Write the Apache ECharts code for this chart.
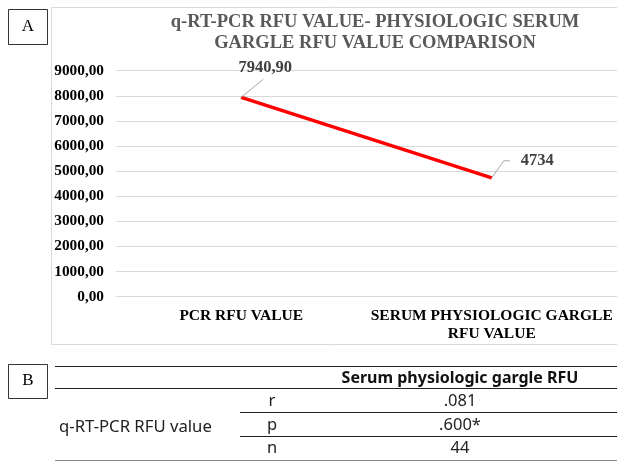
<!DOCTYPE html>
<html>
<head>
<meta charset="utf-8">
<script src="https://cdn.jsdelivr.net/npm/echarts@6/dist/echarts.min.js"></script>
<style>
html,body{margin:0;padding:0;background:#fff;}
#main{width:617px;height:461px;}
</style>
</head>
<body>
<div id="main"></div>
<script>
var categories = ['PCR RFU VALUE', 'SERUM PHYSIOLOGIC GARGLE\nRFU VALUE'];
var values = [7940.90, 4734];
var valueLabels = ['7940,90', '4734'];
var yMin = 0, yMax = 9000, yStep = 1000;
var titleLines = ['q-RT-PCR RFU VALUE- PHYSIOLOGIC SERUM', 'GARGLE RFU VALUE COMPARISON'];
var tableHeader = 'Serum physiologic gargle RFU';
var tableRowGroup = 'q-RT-PCR RFU value';
var tableStats = ['r', 'p', 'n'];
var tableValues = ['.081', '.600*', '44'];

var serif = '"Liberation Serif", "Times New Roman", serif';
var sans = '"Noto Sans", sans-serif';

var chart = echarts.init(document.getElementById('main'), null, {renderer: 'canvas'});

var graphics = [];
// panel boxes A and B
graphics.push({type: 'rect', shape: {x: 8.5, y: 9.5, width: 39, height: 35}, style: {fill: '#fff', stroke: '#333', lineWidth: 1}});
graphics.push({type: 'text', x: 28, y: 27, style: {text: 'A', font: '17px ' + serif, fill: '#000', align: 'center', verticalAlign: 'middle'}});
graphics.push({type: 'rect', shape: {x: 8.5, y: 364.5, width: 39, height: 34}, style: {fill: '#fff', stroke: '#333', lineWidth: 1}});
graphics.push({type: 'text', x: 28, y: 381, style: {text: 'B', font: '17px ' + serif, fill: '#000', align: 'center', verticalAlign: 'middle'}});
// chart area border
graphics.push({type: 'rect', z: -10, shape: {x: 51.5, y: 7.5, width: 700, height: 337}, style: {fill: 'none', stroke: '#d9d9d9', lineWidth: 1}});
// title
graphics.push({type: 'text', x: 375, y: 32.5, style: {text: titleLines.join('\n'), font: 'bold 18.5px ' + serif, fill: '#595959', align: 'center', verticalAlign: 'middle', lineHeight: 21}});

// table
var tTop = 366.5, tHead = 388.5, rowH = 23.7;
graphics.push({type: 'line', shape: {x1: 55, y1: tTop, x2: 617, y2: tTop}, style: {stroke: '#222', lineWidth: 1}});
graphics.push({type: 'line', shape: {x1: 55, y1: tHead, x2: 617, y2: tHead}, style: {stroke: '#222', lineWidth: 1}});
graphics.push({type: 'text', x: 460, y: 378, style: {text: tableHeader, font: 'bold 16px ' + sans, fill: '#111', align: 'center', verticalAlign: 'middle'}});
graphics.push({type: 'text', x: 59, y: 427, style: {text: tableRowGroup, font: '16.7px ' + sans, fill: '#222', align: 'left', verticalAlign: 'middle'}});
tableStats.forEach(function (s, i) {
  var cy = tHead + rowH * (i + 0.5) + 1;
  graphics.push({type: 'text', x: 272, y: cy, style: {text: s, font: '16.5px ' + sans, fill: '#222', align: 'center', verticalAlign: 'middle'}});
  graphics.push({type: 'text', x: 460, y: cy, style: {text: tableValues[i], font: '16.5px ' + sans, fill: '#222', align: 'center', verticalAlign: 'middle'}});
  var ly = Math.round(tHead + rowH * (i + 1)) + 0.5;
  if (i < tableStats.length - 1) {
    graphics.push({type: 'line', shape: {x1: 240, y1: ly, x2: 617, y2: ly}, style: {stroke: '#222', lineWidth: 1}});
  } else {
    graphics.push({type: 'line', shape: {x1: 55, y1: ly, x2: 617, y2: ly}, style: {stroke: '#888', lineWidth: 1}});
  }
});

// label placement relative to each point (pixels), and leader-line bends
var labelOffsets = [
  {dx: 24, dy: -30, align: 'center', va: 'middle'},
  {dx: 29, dy: -17, align: 'left', va: 'middle'}
];
var leaderBends = [
  [[0, 0], [22, -18]],
  [[0, 0], [12, -17], [18, -17]]
];

chart.setOption({
  animation: false,
  backgroundColor: '#fff',
  grid: {left: 116, top: 70.7, width: 635, height: 226},
  xAxis: {
    type: 'category',
    data: categories,
    boundaryGap: true,
    axisLine: {show: true, lineStyle: {color: '#d9d9d9', width: 1}},
    axisTick: {show: false},
    axisLabel: {
      interval: 0,
      margin: 10,
      color: '#000',
      fontFamily: serif,
      fontWeight: 'bold',
      fontSize: 15.5,
      lineHeight: 18
    },
    splitLine: {show: false}
  },
  yAxis: {
    type: 'value',
    min: yMin,
    max: yMax,
    interval: yStep,
    axisLine: {show: false},
    axisTick: {show: false},
    axisLabel: {
      margin: 12,
      color: '#000',
      fontFamily: serif,
      fontWeight: 'bold',
      fontSize: 15.3,
      formatter: function (v) { return v.toFixed(2).replace('.', ','); }
    },
    splitLine: {show: true, lineStyle: {color: '#d9d9d9', width: 1}}
  },
  series: [{
    type: 'line',
    data: values,
    symbol: 'circle',
    symbolSize: 1,
    showSymbol: true,
    itemStyle: {color: '#ff0000'},
    lineStyle: {color: '#ff0000', width: 3.5},
    label: {
      show: true,
      color: '#404040',
      fontFamily: serif,
      fontWeight: 'bold',
      fontSize: 16.5,
      formatter: function (p) { return valueLabels[p.dataIndex]; }
    },
    labelLayout: function (params) {
      var o = labelOffsets[params.dataIndex];
      var cx = params.rect.x + params.rect.width / 2;
      var cy = params.rect.y + params.rect.height / 2;
      return {x: cx + o.dx, y: cy + o.dy, align: o.align, verticalAlign: o.va};
    }
  }],
  graphic: graphics
});

// leader lines from each data point (positions from the library's scales)
var leaders = values.map(function (v, i) {
  var p = chart.convertToPixel({gridIndex: 0}, [i, v]);
  return {
    type: 'polyline',
    z: 50,
    shape: {points: leaderBends[i].map(function (b) { return [p[0] + b[0], p[1] + b[1]]; })},
    style: {stroke: '#a6a6a6', lineWidth: 1, fill: null}
  };
});
chart.setOption({graphic: graphics.concat(leaders)});
</script>
</body>
</html>
